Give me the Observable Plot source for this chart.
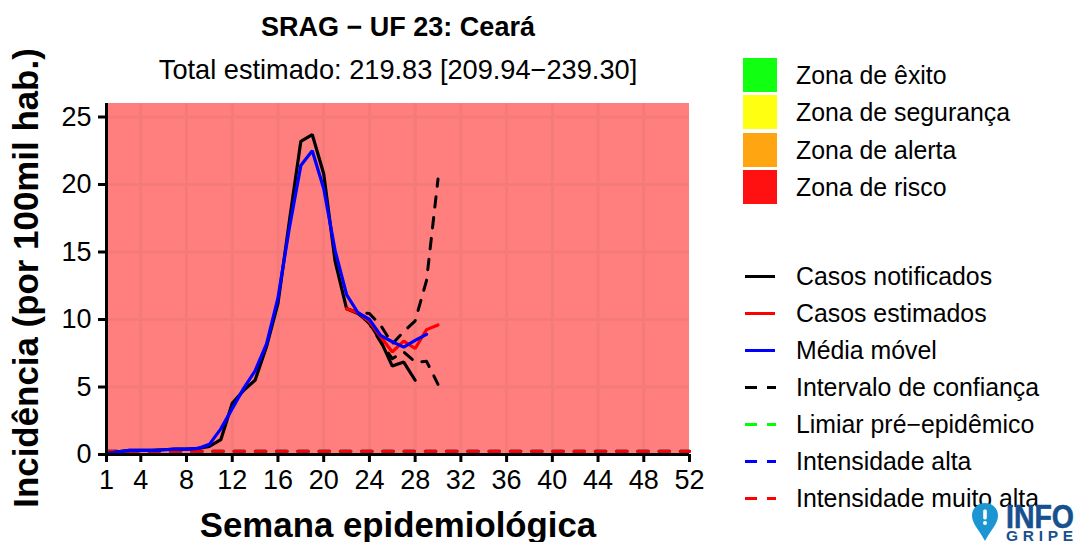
<!DOCTYPE html>
<html lang="pt">
<head>
<meta charset="utf-8">
<script src="https://cdn.jsdelivr.net/npm/d3@7"></script>
<script src="https://cdn.jsdelivr.net/npm/@observablehq/plot@0.6"></script>
<style>
html,body{margin:0;padding:0;background:#fff;}
#root{position:relative;width:1074px;height:542px;overflow:hidden;font-family:"Liberation Sans",Arial,sans-serif;color:#000;}
#root svg.plot{position:absolute;left:0;top:0;}
.t{position:absolute;white-space:nowrap;line-height:1;}
.c{transform:translate(-50%,-50%);}
.sw,.k{position:absolute;}
</style>
</head>
<body>
<div id="root"></div>
<script>
const titleText = "SRAG − UF 23: Ceará";
const subtitleText = "Total estimado: 219.83 [209.94−239.30]";
const xLabel = "Semana epidemiológica";
const yLabel = "Incidência (por 100mil hab.)";
const xTicks = [1,4,8,12,16,20,24,28,32,36,40,44,48,52];
const yTicks = [0,5,10,15,20,25];
const xGrid = [4,8,12,16,20,24,28,32,36,40,44,48];
const yGrid = [5,10,15,20,25];

const notifiedWeeks = d3.range(1,29);
const notified = [0.05,0.2,0.3,0.3,0.3,0.35,0.4,0.4,0.45,0.6,1.1,3.8,4.75,5.5,8.0,11.2,17.3,23.2,23.7,20.8,14.3,10.8,10.45,9.75,8.4,6.55,6.85,5.5];
const movingWeeks = d3.range(1,30);
const moving = [0.05,0.2,0.3,0.3,0.3,0.35,0.4,0.4,0.45,0.75,1.9,3.4,4.9,6.2,8.2,11.6,16.8,21.4,22.5,19.7,15.1,11.85,10.5,10.0,8.8,8.35,7.95,8.45,8.9];
const estimatedWeeks = d3.range(22,31);
const estimated = [10.8,10.5,9.85,8.7,7.6,8.4,7.85,9.25,9.6];
const ciUpper = [10.8,10.5,10.45,9.55,8.2,9.1,9.9,12.9,20.4];
const ciLower = [10.8,10.5,9.7,8.3,7.1,7.6,6.85,6.9,5.2];
const thresholdWeeks = [1,52];
const thresholdValue = 0.25;
const zoneTop = 26;

const zoneLabels = ["Zona de êxito","Zona de segurança","Zona de alerta","Zona de risco"];
const zoneColors = ["#11ff11","#ffff11","#ffa511","#ff1111"];
const lineLabels = ["Casos notificados","Casos estimados","Média móvel","Intervalo de confiança","Limiar pré−epidêmico","Intensidade alta","Intensidade muito alta"];
const lineColors = ["#000000","#ff0000","#0000ff","#000000","#00ff00","#0000ff","#ff0000"];
const lineDashed = [false,false,false,true,true,true,true];

const pts = (xs, ys) => xs.map((x,i) => ({x, y: ys[i]}));
const thr = thresholdWeeks.map(x => ({x, y: thresholdValue}));
const font = '"Liberation Sans",Arial,sans-serif';
const gridColor = "#f57a7a";

const chart = Plot.plot({
  width: 1074, height: 542,
  marginLeft: 106, marginRight: 385, marginTop: 103, marginBottom: 88,
  x: {domain: [1,52], label: null},
  y: {domain: [0,zoneTop], label: null},
  style: {fontFamily: font, background: "transparent", color: "#000", overflow: "visible"},
  marks: [
    Plot.rect([{x1:1,x2:52,y1:0,y2:zoneTop}], {x1:"x1",x2:"x2",y1:"y1",y2:"y2",fill:"#ff7f7f"}),
    Plot.ruleX(xGrid, {stroke: gridColor, strokeWidth: 3}),
    Plot.ruleY(yGrid, {stroke: gridColor, strokeWidth: 3}),
    Plot.line(thr, {x:"x",y:"y",stroke:"#00ff00",strokeWidth:3,strokeDasharray:"10.6 10.65"}),
    Plot.line(thr, {x:"x",y:"y",stroke:"#0000ff",strokeWidth:3,strokeDasharray:"10.6 10.65"}),
    Plot.line(thr, {x:"x",y:"y",stroke:"#ff0000",strokeWidth:3,strokeDasharray:"10.6 10.65"}),
    Plot.line(pts(estimatedWeeks,ciUpper), {x:"x",y:"y",stroke:"#000",strokeWidth:3,strokeDasharray:"10.5 10.5"}),
    Plot.line(pts(estimatedWeeks,ciLower), {x:"x",y:"y",stroke:"#000",strokeWidth:3,strokeDasharray:"10.5 10.5"}),
    Plot.line(pts(notifiedWeeks,notified), {x:"x",y:"y",stroke:"#000",strokeWidth:3.2,strokeLinejoin:"miter"}),
    Plot.line(pts(estimatedWeeks,estimated), {x:"x",y:"y",stroke:"#ff0000",strokeWidth:3.2,strokeLinejoin:"miter"}),
    Plot.line(pts(movingWeeks,moving), {x:"x",y:"y",stroke:"#0000ff",strokeWidth:3.2,strokeLinejoin:"miter"}),
    Plot.ruleY([0], {stroke:"#000", strokeWidth:3}),
    Plot.ruleX([1], {stroke:"#000", strokeWidth:3}),
    Plot.axisX({ticks: xTicks, tickSize: 8, tickPadding: 7, fontSize: 27, label: null, stroke:"#000", strokeWidth:3, tickFormat: d => String(d), fill:"#000"}),
    Plot.axisY({ticks: yTicks, tickSize: 8, tickPadding: 7, fontSize: 27, label: null, stroke:"#000", strokeWidth:3, tickFormat: d => String(d), fill:"#000"})
  ]
});

const root = document.getElementById("root");
root.appendChild(chart);

function text(str, x, y, size, bold, extra) {
  const d = document.createElement("div");
  d.className = "t c";
  d.textContent = str;
  d.style.left = x + "px";
  d.style.top = y + "px";
  d.style.fontSize = size + "px";
  if (bold) d.style.fontWeight = "bold";
  if (extra) d.style.transform = extra;
  root.appendChild(d);
  return d;
}
text(titleText, 398, 27, 27, true);
text(subtitleText, 398, 70, 27.2, false);
text(xLabel, 398, 525, 34.8, true);
text(yLabel, 26, 278, 34.9, true, "translate(-50%,-50%) rotate(-90deg)");

function leftText(str, y) {
  const d = text(str, 796, y, 24.85, false, "translateY(-50%)");
  return d;
}
function box(cls, x, y, w, h, color) {
  const d = document.createElement("div");
  d.className = cls;
  Object.assign(d.style, {left:x+"px", top:y+"px", width:w+"px", height:h+"px", background:color});
  root.appendChild(d);
}
const zoneStep = 37.33;
zoneLabels.forEach((s,i) => {
  box("sw", 743, 58 + i*zoneStep, 34, 34, zoneColors[i]);
  leftText(s, 76 + i*zoneStep);
});
const lineStep = 37;
lineLabels.forEach((s,i) => {
  const y = 276 + i*lineStep - 1.5;
  if (lineDashed[i]) {
    box("k", 745, y, 12, 3, lineColors[i]);
    box("k", 767, y, 9, 3, lineColors[i]);
  } else {
    box("k", 745, y, 30, 3, lineColors[i]);
  }
  leftText(s, 277 + i*lineStep);
});

const logo = document.createElement("div");
logo.style.cssText = "position:absolute;left:970px;top:500px;width:104px;height:42px;";
logo.innerHTML = `<svg width="104" height="42" viewBox="0 0 104 42" xmlns="http://www.w3.org/2000/svg" style="display:block">
<path d="M15 3 C7.5 3 2 8.5 2 15.5 C2 24 10 31 15 41 C20 31 28 24 28 15.5 C28 8.5 22.5 3 15 3 Z" fill="#1c96d3"/>
<rect x="13.2" y="9.5" width="3.6" height="10" rx="1.4" fill="#fff"/>
<circle cx="15" cy="23" r="2" fill="#fff"/>
<text x="36" y="28" font-family="'Liberation Sans',Arial,sans-serif" font-weight="bold" font-size="33.5" fill="#17508f" stroke="#17508f" stroke-width="0.6" textLength="68" lengthAdjust="spacingAndGlyphs">INFO</text>
<text x="36" y="40.5" font-family="'Liberation Sans',Arial,sans-serif" font-weight="bold" font-size="15.5" fill="#17508f" textLength="67">GRIPE</text>
</svg>`;
root.appendChild(logo);
</script>
</body>
</html>
